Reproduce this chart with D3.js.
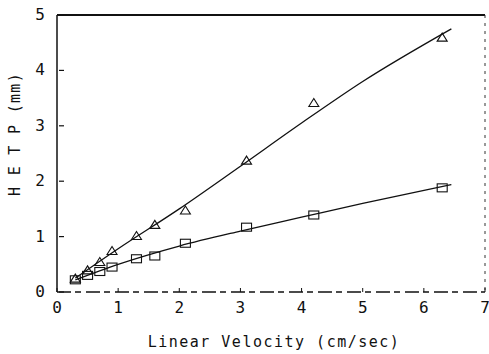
<!DOCTYPE html>
<html>
<head>
<meta charset="utf-8">
<script src="https://cdn.jsdelivr.net/npm/d3@7"></script>
<style>
  body { margin: 0; background: #fff; }
  text { font-family: "DejaVu Sans Mono", monospace; fill: #111; }
</style>
</head>
<body>
<svg id="chart" width="489" height="354"></svg>
<script>
// measured points
const velocity = [0.3, 0.5, 0.7, 0.9, 1.3, 1.6, 2.1, 3.1, 4.2, 6.3];
const hetpTriangle = [0.25, 0.4, 0.55, 0.75, 1.02, 1.22, 1.48, 2.38, 3.42, 4.6];
const hetpSquare = [0.22, 0.3, 0.37, 0.45, 0.6, 0.65, 0.88, 1.17, 1.39, 1.88];

// drawn curves
const fitVelocity = [0.3, 1, 2, 3, 4, 5, 6.45];
const fitTriangle = [0.25, 0.78, 1.5, 2.27, 3.05, 3.8, 4.75];
const fitSquare = [0.22, 0.5, 0.83, 1.1, 1.35, 1.6, 1.94];

const xTicks = [0, 1, 2, 3, 4, 5, 6, 7];
const yTicks = [0, 1, 2, 3, 4, 5];

(() => {
  let svg, x, y, g, line;
  svg = d3.select('#chart');
  x = d3.scaleLinear().domain([0, 7]).range([57, 485]);
  y = d3.scaleLinear().domain([0, 5]).range([292, 15]);
  g = svg.append('g');

  // frame
  g.append('line').attr('x1', x(0)).attr('x2', x(0)).attr('y1', y(0)).attr('y2', y(5))
    .attr('stroke', '#111').attr('stroke-width', 1.5);
  g.append('line').attr('x1', x(0)).attr('x2', x(7)).attr('y1', y(5)).attr('y2', y(5))
    .attr('stroke', '#111').attr('stroke-width', 2);
  g.append('line').attr('x1', x(7)).attr('x2', x(7)).attr('y1', y(5)).attr('y2', y(0))
    .attr('stroke', '#333').attr('stroke-width', 1).attr('stroke-dasharray', '3,5');
  g.append('line').attr('x1', x(0)).attr('x2', x(7)).attr('y1', y(0)).attr('y2', y(0))
    .attr('stroke', '#111').attr('stroke-width', 1.5).attr('stroke-dasharray', '14,4,6,5');

  // ticks
  g.selectAll('.xt').data(xTicks).enter().append('line')
    .attr('x1', d => x(d)).attr('x2', d => x(d)).attr('y1', y(0)).attr('y2', y(0) - 4)
    .attr('stroke', '#111');
  g.selectAll('.yt').data(yTicks).enter().append('line')
    .attr('x1', x(0) + 2).attr('x2', x(0) + 7).attr('y1', d => y(d)).attr('y2', d => y(d))
    .attr('stroke', '#111').attr('stroke-width', 1.2);

  g.selectAll('.xl').data(xTicks).enter().append('text')
    .attr('x', d => x(d)).attr('y', y(0) + 21)
    .attr('text-anchor', 'middle').attr('font-size', 16).text(d => d);
  g.selectAll('.yl').data(yTicks).enter().append('text')
    .attr('x', x(0) - 12).attr('y', d => y(d) + 5)
    .attr('text-anchor', 'end').attr('font-size', 16).text(d => d);

  // titles
  svg.append('text').attr('x', 274).attr('y', 347).attr('text-anchor', 'middle')
    .attr('font-size', 15).attr('letter-spacing', 1.5)
    .text('Linear Velocity (cm/sec)');
  svg.append('text').attr('transform', 'translate(20,134) rotate(-90)')
    .attr('text-anchor', 'middle').attr('font-size', 15).attr('letter-spacing', 1.3)
    .text('H E T P  (mm)');

  // curves
  line = vals => d3.line().curve(d3.curveMonotoneX)
    .x((d, i) => x(fitVelocity[i])).y(d => y(d))(vals);
  g.append('path').attr('d', line(fitTriangle)).attr('fill', 'none')
    .attr('stroke', '#111').attr('stroke-width', 1.3);
  g.append('path').attr('d', line(fitSquare)).attr('fill', 'none')
    .attr('stroke', '#111').attr('stroke-width', 1.3);

  // markers
  g.selectAll('.tri').data(velocity).enter().append('path')
    .attr('d', (d, i) => {
      let cx = x(d), cy = y(hetpTriangle[i]);
      return `M${cx - 5},${cy + 4}L${cx},${cy - 4}L${cx + 5},${cy + 4}Z`;
    })
    .attr('fill', 'none').attr('stroke', '#111').attr('stroke-width', 1.1);
  g.selectAll('.sq').data(velocity).enter().append('rect')
    .attr('x', d => x(d) - 5).attr('y', (d, i) => y(hetpSquare[i]) - 4)
    .attr('width', 10).attr('height', 8)
    .attr('fill', 'none').attr('stroke', '#111').attr('stroke-width', 1.1);
})();
</script>
</body>
</html>
